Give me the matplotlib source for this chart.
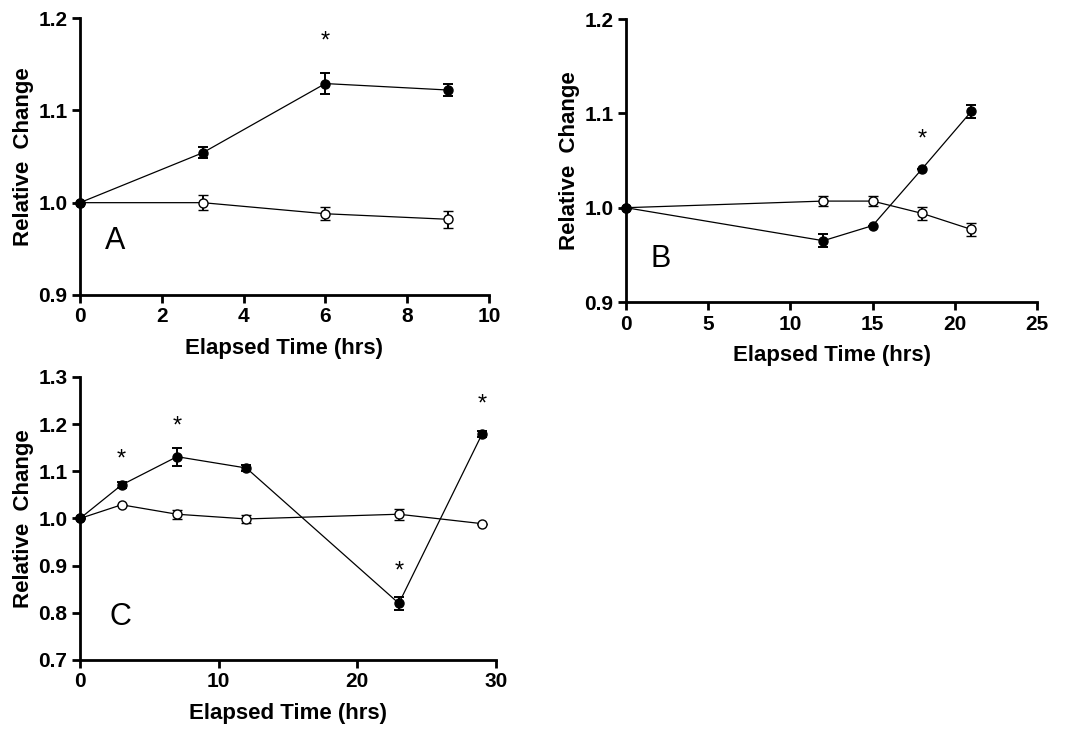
import matplotlib.pyplot as plt

plt.rcParams['font.family'] = ['Liberation Sans', 'DejaVu Sans']

# panel A
a_x = [0, 3, 6, 9]
a_filled = [1.0, 1.054, 1.129, 1.122]
a_filled_err = [0.0, 0.006, 0.011, 0.006]
a_open = [1.0, 1.0, 0.988, 0.982]
a_open_err = [0.0, 0.008, 0.007, 0.009]
a_star_x = [6]
a_star_y = [1.175]

# panel B
b_x = [0, 12, 15, 18, 21]
b_filled = [1.0, 0.965, 0.981, 1.041, 1.102]
b_filled_err = [0.0, 0.007, 0.0, 0.0, 0.007]
b_open = [1.0, 1.007, 1.007, 0.994, 0.977]
b_open_err = [0.0, 0.005, 0.005, 0.007, 0.007]
b_star_x = [18]
b_star_y = [1.072]

# panel C
c_x = [0, 3, 7, 12, 23, 29]
c_filled = [1.0, 1.071, 1.131, 1.107, 0.82, 1.179]
c_filled_err = [0.0, 0.007, 0.019, 0.006, 0.013, 0.006]
c_open = [1.0, 1.029, 1.009, 0.999, 1.009, 0.989]
c_open_err = [0.0, 0.0, 0.01, 0.009, 0.012, 0.0]
c_star_x = [3, 7, 23, 29]
c_star_y = [1.126, 1.195, 0.888, 1.242]

fig = plt.figure(figsize=(10.69, 7.32), dpi=100)


def panel(rect, x, yf, ef, yo, eo, sx, sy, xlim, xticks, ylim, yticks, letter, lpos):
    ax = fig.add_axes(rect)
    ax.errorbar(x, yo, yerr=eo, color='black', lw=0.9, marker='o', ms=6.5,
                mfc='white', mec='black', mew=1.0, capsize=3.8, elinewidth=1.4,
                capthick=1.4, zorder=3)
    ax.errorbar(x, yf, yerr=ef, color='black', lw=0.9, marker='o', ms=6.5,
                mfc='black', mec='black', capsize=3.8, elinewidth=1.4,
                capthick=1.4, zorder=4)
    for px, py in zip(sx, sy):
        ax.text(px, py, '*', ha='center', va='center', fontsize=17)
    ax.text(lpos[0], lpos[1], letter, fontsize=22, ha='left', va='center')
    ax.set_xlim(xlim)
    ax.set_ylim(ylim)
    ax.set_xticks(xticks)
    ax.set_yticks(yticks)
    ax.set_yticklabels(['%.1f' % t for t in yticks])
    for s in ['top', 'right']:
        ax.spines[s].set_visible(False)
    for s in ['left', 'bottom']:
        ax.spines[s].set_linewidth(2)
    ax.tick_params(direction='out', length=6, width=2, labelsize=15, pad=3)
    for lab in ax.get_xticklabels() + ax.get_yticklabels():
        lab.set_fontweight('bold')
    ax.set_xlabel('Elapsed Time (hrs)', fontsize=16, fontweight='bold', labelpad=8)
    ax.set_ylabel('Relative  Change', fontsize=16, fontweight='bold', labelpad=3)
    for ln in ax.lines:
        ln.set_clip_on(False)
    return ax


panel([0.0748, 0.597, 0.3826, 0.3784], a_x, a_filled, a_filled_err, a_open, a_open_err,
      a_star_x, a_star_y, (0, 10), [0, 2, 4, 6, 8, 10], (0.9, 1.2), [0.9, 1.0, 1.1, 1.2],
      'A', (0.6, 0.958))
panel([0.5856, 0.5874, 0.3845, 0.3866], b_x, b_filled, b_filled_err, b_open, b_open_err,
      b_star_x, b_star_y, (0, 25), [0, 5, 10, 15, 20, 25], (0.9, 1.2), [0.9, 1.0, 1.1, 1.2],
      'B', (1.5, 0.946))
panel([0.0748, 0.0984, 0.3891, 0.3866], c_x, c_filled, c_filled_err, c_open, c_open_err,
      c_star_x, c_star_y, (0, 30), [0, 10, 20, 30], (0.7, 1.3),
      [0.7, 0.8, 0.9, 1.0, 1.1, 1.2, 1.3], 'C', (2.1, 0.792))

fig.savefig('out.png', dpi=100)
